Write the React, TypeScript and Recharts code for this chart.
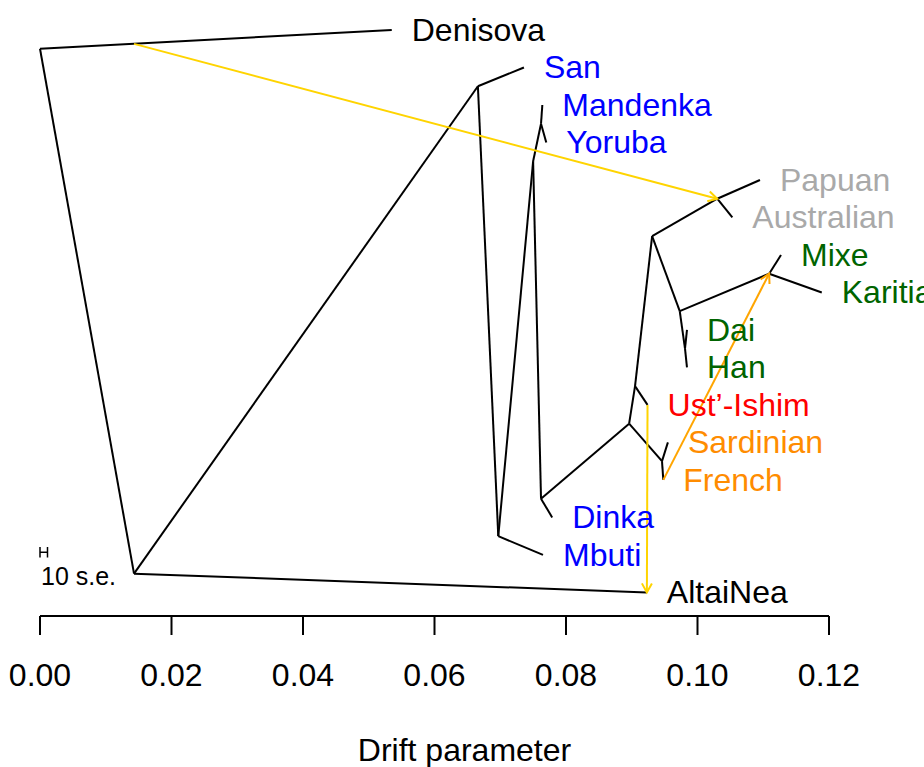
import { ComposedChart, Line, Scatter, XAxis, YAxis } from "recharts";

// tips of the tree, top to bottom
const tipNames = [
  "Denisova", "San", "Mandenka", "Yoruba", "Papuan", "Australian", "Mixe", "Karitiana",
  "Dai", "Han", "Ust’-Ishim", "Sardinian", "French", "Dinka", "Mbuti", "AltaiNea",
];
const tipDrift = [
  0.0535, 0.0736, 0.0764, 0.077, 0.1095, 0.1053, 0.1127, 0.1189,
  0.0984, 0.0984, 0.0924, 0.0955, 0.0948, 0.0779, 0.0765, 0.0923,
];
const tipRank = [0, 1, 2, 3, 4, 5, 6, 7, 8, 9, 10, 11, 12, 13, 14, 15];
const tipGroup = [
  "archaic", "africa", "africa", "africa", "oceania", "oceania", "america", "america",
  "eastasia", "eastasia", "ancient", "europe", "europe", "africa", "africa", "archaic",
];

// internal nodes
const nodeNames = ["root", "n1", "n2", "n3", "n4", "nMY", "n5", "n6", "n7", "n8", "nPA", "n11", "nMK", "nDH", "nEu"];
const nodeDrift = [0, 0.0143, 0.0666, 0.0697, 0.075, 0.0762, 0.0762, 0.0896, 0.0905, 0.0931, 0.103, 0.0973, 0.1109, 0.0981, 0.0946];
const nodeRank = [0.5, 14.5, 1.5, 13.5, 3.5, 2.5, 12.5, 10.5, 9.5, 5.5, 4.5, 7.5, 6.5, 8.5, 11.5];

const edges = [
  ["root", "Denisova"], ["root", "n1"], ["n1", "AltaiNea"], ["n1", "n2"],
  ["n2", "San"], ["n2", "n3"], ["n3", "Mbuti"], ["n3", "n4"],
  ["n4", "nMY"], ["nMY", "Mandenka"], ["nMY", "Yoruba"], ["n4", "n5"],
  ["n5", "Dinka"], ["n5", "n6"], ["n6", "n7"], ["n7", "Ust’-Ishim"],
  ["n7", "n8"], ["n8", "nPA"], ["nPA", "Papuan"], ["nPA", "Australian"],
  ["n8", "n11"], ["n11", "nMK"], ["nMK", "Mixe"], ["nMK", "Karitiana"],
  ["n11", "nDH"], ["nDH", "Dai"], ["nDH", "Han"], ["n6", "nEu"],
  ["nEu", "Sardinian"], ["nEu", "French"],
];

// migration edges
const migFromDrift = [0.0143, 0.0924, 0.0948];
const migFromRank = [0.37, 10, 12];
const migTo = ["nPA", "AltaiNea", "nMK"];
const migLevel = ["low", "low", "mid"];

const driftTicks = [0, 0.02, 0.04, 0.06, 0.08, 0.1, 0.12];
const seBarDrift = [0, 0.00114];
const seBarRank = 13.93;
const seLabel = "10 s.e.";

const groupColor: Record<string, string> = {
  archaic: "#000000",
  africa: "#0000FF",
  oceania: "#A9A9A9",
  america: "#006400",
  eastasia: "#006400",
  ancient: "#FF0000",
  europe: "#FF8C00",
};
const migColor: Record<string, string> = { low: "#FFD400", mid: "#FFA500" };

const font = "'Liberation Sans', Arial, Helvetica, sans-serif";

const pos: Record<string, { x: number; y: number }> = {};
tipNames.forEach((n, i) => (pos[n] = { x: tipDrift[i], y: tipRank[i] }));
nodeNames.forEach((n, i) => (pos[n] = { x: nodeDrift[i], y: nodeRank[i] }));

const edgeData = edges.map(([a, b]) => [pos[a], pos[b]]);
const migData = migTo.map((t, i) => [{ x: migFromDrift[i], y: migFromRank[i] }, pos[t]]);
const tipPoints = tipNames.map((name, i) => ({ x: tipDrift[i], y: tipRank[i], name, group: tipGroup[i] }));
const seLines = [
  [{ x: seBarDrift[0], y: seBarRank }, { x: seBarDrift[1], y: seBarRank }],
  [{ x: seBarDrift[0], y: seBarRank - 0.14 }, { x: seBarDrift[0], y: seBarRank + 0.14 }],
  [{ x: seBarDrift[1], y: seBarRank - 0.14 }, { x: seBarDrift[1], y: seBarRank + 0.14 }],
];

const TipLabel = (props: any) => (
  <text
    x={props.cx + 20}
    y={props.cy + 11}
    fontSize={32}
    fontFamily={font}
    fill={groupColor[props.payload.group]}
  >
    {props.payload.name}
  </text>
);

const SeLabel = (props: any) => (
  <text x={props.cx + 1} y={props.cy + 33} fontSize={25} fontFamily={font} fill="#000">
    {seLabel}
  </text>
);

export default function App() {
  return (
    <div style={{ position: "absolute", left: 0, top: 0, background: "#fff" }}>
      <ComposedChart width={924} height={767} margin={{ top: 15, right: 95, left: 40, bottom: 0 }}>
        <defs>
          {Object.keys(migColor).map((k) => (
            <marker
              key={k}
              id={`arrow-${k}`}
              viewBox="0 0 10 10"
              refX={9}
              refY={5}
              markerWidth={10}
              markerHeight={10}
              markerUnits="userSpaceOnUse"
              orient="auto"
              overflow="visible"
            >
              <path d="M0,0 L9,5 L0,10" fill="none" stroke={migColor[k]} strokeWidth={2} />
            </marker>
          ))}
        </defs>
        <XAxis
          type="number"
          dataKey="x"
          domain={[0, 0.12]}
          ticks={driftTicks}
          interval={0}
          tickFormatter={(v: number) => v.toFixed(2)}
          height={151}
          tickSize={19}
          tickMargin={28}
          stroke="#000"
          axisLine={{ stroke: "#000", strokeWidth: 2 }}
          tickLine={{ stroke: "#000", strokeWidth: 2 }}
          tick={{ fontSize: 32, fill: "#000", fontFamily: font }}
          label={{
            value: "Drift parameter",
            position: "insideBottom",
            offset: 6,
            dx: 30,
            fontSize: 32,
            fill: "#000",
            fontFamily: font,
          }}
        />
        <YAxis type="number" dataKey="y" hide reversed domain={[-0.4, 15.63]} />
        {edgeData.map((d, i) => (
          <Line
            key={`e${i}`}
            data={d}
            dataKey="y"
            type="linear"
            stroke="#000"
            strokeWidth={2}
            dot={false}
            activeDot={false}
            isAnimationActive={false}
          />
        ))}
        {migData.map((d, i) => (
          <Line
            key={`m${i}`}
            data={d}
            dataKey="y"
            type="linear"
            stroke={migColor[migLevel[i]]}
            strokeWidth={2}
            dot={false}
            activeDot={false}
            markerEnd={`url(#arrow-${migLevel[i]})`}
            isAnimationActive={false}
          />
        ))}
        {seLines.map((d, i) => (
          <Line
            key={`s${i}`}
            data={d}
            dataKey="y"
            type="linear"
            stroke="#000"
            strokeWidth={1.5}
            dot={false}
            activeDot={false}
            isAnimationActive={false}
          />
        ))}
        <Scatter data={tipPoints} dataKey="y" shape={TipLabel} isAnimationActive={false} />
        <Scatter
          data={[{ x: seBarDrift[0], y: seBarRank }]}
          dataKey="y"
          shape={SeLabel}
          isAnimationActive={false}
        />
      </ComposedChart>
    </div>
  );
}
